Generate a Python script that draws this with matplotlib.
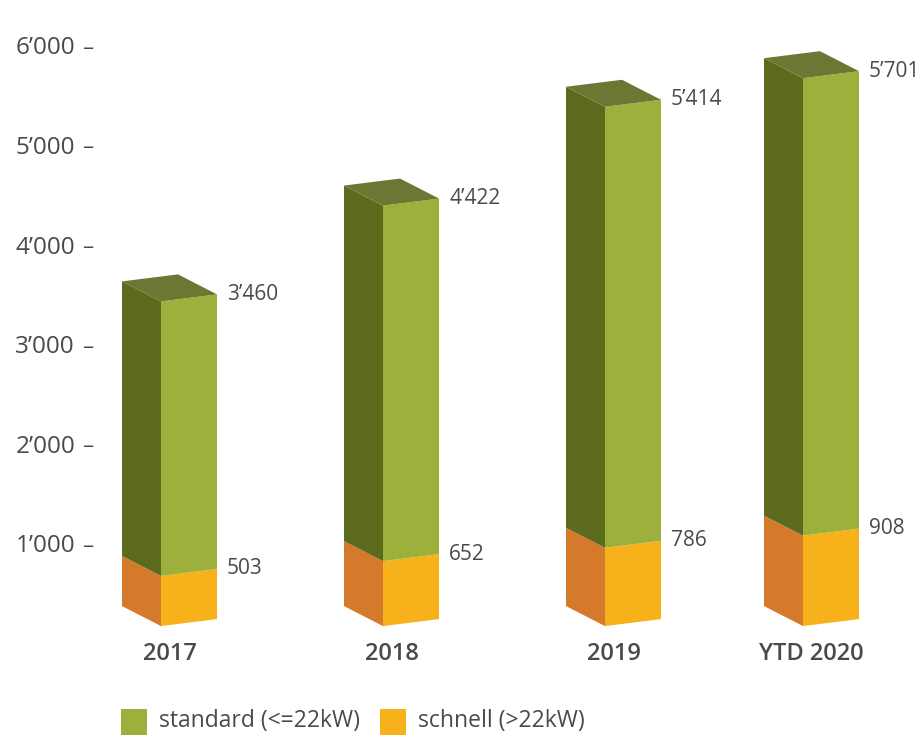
import matplotlib.pyplot as plt
from matplotlib.patches import Polygon, Rectangle

plt.rcParams['font.family'] = ['Open Sans', 'DejaVu Sans']

# data
years = ["2017", "2018", "2019", "YTD 2020"]
standard = [3460, 4422, 5414, 5701]
schnell = [503, 652, 786, 908]
tick_values = [1000, 2000, 3000, 4000, 5000, 6000]

# colours
green_front = "#9db03c"
green_side = "#5c6a1d"
green_top = "#6b7733"
orange_front = "#f7b11b"
orange_side = "#d57a2a"
text_col = "#4a4a4a"

# layout (x in pixels, y in data units)
front_x = [161, 383, 605, 803]
w = 56          # front face width
d = 39          # side depth
px_per_unit = 0.0996
zero_px = 646
back_dy = 20 / px_per_unit   # back edge sits higher
rise = 7 / px_per_unit       # front face slants up to the right
base = 200


def fmt(v):
    return f"{v:,}".replace(",", "\u2019")


fig = plt.figure(figsize=(9.22, 7.35), dpi=100)
ax = fig.add_axes([0, 0, 1, 1])
ax.set_xlim(0, 922)
ax.set_ylim((zero_px - 735) / px_per_unit, zero_px / px_per_unit)
ax.axis("off")

for x, top, low, label in zip(front_x, standard, schnell, years):
    mid = base + low
    # orange block
    ax.add_patch(Polygon([(x - d, base + back_dy), (x, base), (x, mid), (x - d, mid + back_dy)],
                         closed=True, fc=orange_side, ec="none"))
    ax.add_patch(Polygon([(x, base), (x + w, base + rise), (x + w, mid + rise), (x, mid)],
                         closed=True, fc=orange_front, ec="none"))
    # green block
    ax.add_patch(Polygon([(x - d, mid + back_dy), (x, mid), (x, top), (x - d, top + back_dy)],
                         closed=True, fc=green_side, ec="none"))
    ax.add_patch(Polygon([(x, mid), (x + w, mid + rise), (x + w, top + rise), (x, top)],
                         closed=True, fc=green_front, ec="none"))
    # top face
    ax.add_patch(Polygon([(x - d, top + back_dy), (x - d + w, top + back_dy + rise),
                          (x + w, top + rise), (x, top)],
                         closed=True, fc=green_top, ec="none"))

    ax.text(x + w + 10, top + rise, fmt(top), ha="left", va="center",
            fontsize=15, color=text_col)
    ax.text(x + w + 10, mid + rise, fmt(low), ha="left", va="center",
            fontsize=15, color=text_col)
    ax.text(x + (w - d) / 2, -85, label, ha="center", va="center",
            fontsize=17, color=text_col, fontweight="semibold")

for t in tick_values:
    ax.text(75, t, fmt(t), ha="right", va="center", fontsize=17.5, color=text_col)
    ax.text(88, t, "\u2013", ha="center", va="center", fontsize=16, color=text_col)

# legend
fig.patches.append(Rectangle((121 / 922, 0), 26 / 922, 26 / 735,
                             transform=fig.transFigure, fc=green_front, ec="none"))
fig.patches.append(Rectangle((380 / 922, 0), 26 / 922, 26 / 735,
                             transform=fig.transFigure, fc=orange_front, ec="none"))
fig.text(159 / 922, 1 - 721 / 735, "standard (<=22kW)", ha="left", va="center",
         fontsize=16.5, color=text_col)
fig.text(418 / 922, 1 - 721 / 735, "schnell (>22kW)", ha="left", va="center",
         fontsize=16.5, color=text_col)

fig.savefig("out.png", dpi=100, facecolor="white")
